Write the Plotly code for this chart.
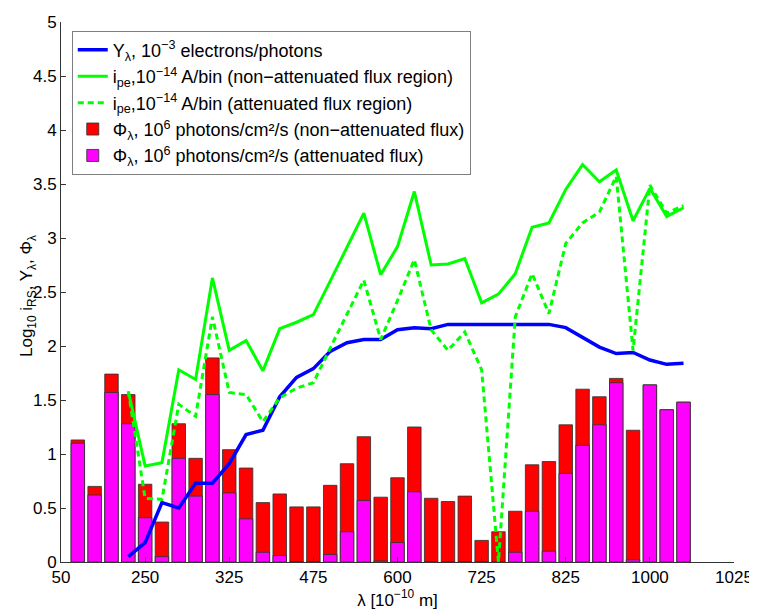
import plotly.graph_objects as go

# bar index positions (1..37) and tick labels
bar_index = list(range(1, 38))
tick_positions = [0, 5, 10, 15, 20, 25, 30, 35, 40]
tick_labels = ["50", "250", "325", "475", "600", "725", "825", "1000", "1025"]

# Phi_lambda, non-attenuated flux (log10)
phi_non_att = [1.13, 0.70, 1.74, 1.55, 0.72, 0.37, 1.28, 0.96, 1.89, 1.04,
               0.87, 0.55, 0.63, 0.51, 0.51, 0.71, 0.91, 1.16, 0.60, 0.78,
               1.25, 0.59, 0.56, 0.61, 0.20, 0.28, 0.47, 0.90, 0.93, 1.27,
               1.60, 1.53, 1.70, 1.22, 1.64, 1.41, 1.48]
# Phi_lambda, attenuated flux (log10)
phi_att = [1.10, 0.62, 1.57, 1.28, 0.41, 0.05, 0.96, 0.61, 1.55, 0.64,
           0.40, 0.09, 0.06, 0.0, 0.0, 0.07, 0.28, 0.57, 0.01, 0.18,
           0.65, 0.0, 0.0, 0.0, 0.0, 0.0, 0.09, 0.47, 0.10, 0.82,
           1.08, 1.27, 1.66, 0.02, 1.64, 1.41, 1.48]

line_index = list(range(4, 38))
# Y_lambda yield (log10)
y_lambda = [0.05, 0.18, 0.55, 0.50, 0.73, 0.73, 0.91, 1.18, 1.22, 1.53,
            1.71, 1.79, 1.95, 2.03, 2.06, 2.06, 2.15, 2.17, 2.16, 2.20,
            2.20, 2.20, 2.20, 2.20, 2.20, 2.20, 2.17, 2.08, 1.99, 1.93,
            1.94, 1.87, 1.83, 1.84]
# i_pe non-attenuated flux region (log10)
ipe_non_att = [1.58, 0.89, 0.92, 1.78, 1.69, 2.63, 1.96, 2.05, 1.77, 2.16,
               2.22, 2.29, 2.60, 2.91, 3.23, 2.66, 2.92, 3.43, 2.75, 2.76,
               2.81, 2.40, 2.48, 2.67, 3.10, 3.14, 3.45, 3.68, 3.52, 3.63,
               3.16, 3.46, 3.20, 3.28]
# i_pe attenuated flux region (log10)
ipe_att = [1.58, 0.59, 0.58, 1.46, 1.35, 2.27, 1.57, 1.55, 1.30, 1.52,
           1.61, 1.66, 1.98, 2.30, 2.61, 2.06, 2.42, 2.80, 2.15, 1.96,
           2.13, 1.78, 0.0, 2.27, 2.67, 2.30, 2.95, 3.14, 3.24, 3.57,
           1.96, 3.49, 3.23, 3.30]

FONT = "Liberation Sans, Arial, Helvetica, sans-serif"

fig = go.Figure()
fig.add_trace(go.Scatter(
    x=line_index, y=y_lambda, mode="lines",
    line=dict(color="#0000ff", width=3.5),
    name="Y<sub>λ</sub>, 10<sup>−3</sup> electrons/photons"))
fig.add_trace(go.Scatter(
    x=line_index, y=ipe_non_att, mode="lines",
    line=dict(color="#00ff00", width=3),
    name="i<sub>pe</sub>,10<sup>−14</sup> A/bin (non−attenuated flux region)"))
fig.add_trace(go.Scatter(
    x=line_index, y=ipe_att, mode="lines",
    line=dict(color="#00ff00", width=3, dash="6px,4px"),
    name="i<sub>pe</sub>,10<sup>−14</sup> A/bin (attenuated flux region)"))
fig.add_trace(go.Bar(
    x=bar_index, y=phi_non_att, width=0.8,
    marker=dict(color="#ff0000", line=dict(color="rgba(50,50,50,0.85)", width=1)),
    name="Φ<sub>λ</sub>, 10<sup>6</sup> photons/cm²/s (non−attenuated flux)"))
fig.add_trace(go.Bar(
    x=bar_index, y=phi_att, width=0.8,
    marker=dict(color="#ff00ff", line=dict(color="rgba(50,50,50,0.85)", width=1)),
    name="Φ<sub>λ</sub>, 10<sup>6</sup> photons/cm²/s (attenuated flux)"))

fig.update_layout(
    width=757, height=610,
    margin=dict(l=53, r=31, t=14, b=56),
    paper_bgcolor="white", plot_bgcolor="white",
    barmode="overlay",
    font=dict(family=FONT, size=17, color="black"),
    showlegend=True,
    legend=dict(
        x=0.016, y=0.984, xanchor="left", yanchor="top",
        bgcolor="white", bordercolor="#7f7f7f", borderwidth=1,
        font=dict(family=FONT, size=18, color="black"),
        tracegroupgap=0, itemwidth=30,
    ),
    xaxis=dict(
        range=[0, 40], tickmode="array", tickvals=tick_positions, ticktext=tick_labels,
        ticks="inside", ticklen=5, tickcolor="#333", showline=True, linecolor="#333",
        linewidth=1, showgrid=False, zeroline=False, mirror=False, automargin=False,
        ticklabeloverflow="allow",
        tickfont=dict(family=FONT, size=17),
        title=dict(text="λ [10<sup>−10</sup> m]", font=dict(family=FONT, size=17), standoff=4),
    ),
    yaxis=dict(
        range=[0, 5], tickmode="array",
        tickvals=[0, 0.5, 1, 1.5, 2, 2.5, 3, 3.5, 4, 4.5, 5],
        ticktext=["0", "0.5", "1", "1.5", "2", "2.5", "3", "3.5", "4", "4.5", "5"],
        ticks="inside", ticklen=5, tickcolor="#333", showline=True, linecolor="#333",
        linewidth=1, showgrid=False, zeroline=False, mirror=False, automargin=False,
        ticklabeloverflow="allow",
        tickfont=dict(family=FONT, size=17),
    ),
    annotations=[dict(
        text="Log<sub>10</sub> i<sub>RS</sub>, Y<sub>λ</sub>, Φ<sub>λ</sub>",
        xref="paper", yref="paper", x=(28 - 61) / 673, y=(562 - 296) / 540,
        xanchor="center", yanchor="middle", textangle=-90, showarrow=False,
        font=dict(family=FONT, size=17, color="black"),
    )],
)

fig.write_html("out.html")
